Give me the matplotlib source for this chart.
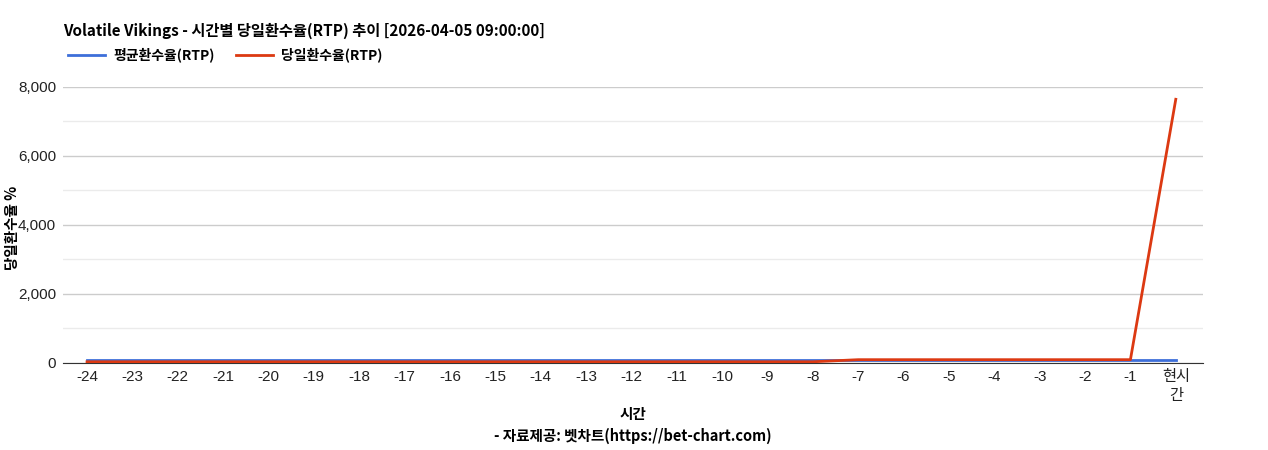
import matplotlib
matplotlib.use("Agg")
import matplotlib.pyplot as plt
from matplotlib.ticker import MultipleLocator, FuncFormatter

plt.rcParams['font.family'] = ['Noto Sans CJK KR', 'DejaVu Sans']

hours = list(range(-24, 1))
tick_labels = [str(h) for h in range(-24, 0)] + ['현시\n간']
avg_rtp = [96] * 25
day_rtp = [35] * 17 + [96, 96, 96, 96, 96, 96, 96, 7630]

W, H = 1268, 450
fig = plt.figure(figsize=(W / 100, H / 100), dpi=100)
left, right, top, bottom = 63, 1203, 86.5, 363
ax = fig.add_axes([left / W, 1 - bottom / H, (right - left) / W, (bottom - top) / H])

ax.plot(hours, avg_rtp, color='#3d6fd9', lw=2, label='평균환수율(RTP)', zorder=3)
ax.plot(hours, day_rtp, color='#dc3912', lw=2, label='당일환수율(RTP)', zorder=4)

ax.set_xlim(-24.53, 0.6)
ax.set_ylim(0, 8000)
ax.yaxis.set_major_locator(MultipleLocator(2000))
ax.yaxis.set_minor_locator(MultipleLocator(1000))
ax.yaxis.set_major_formatter(FuncFormatter(lambda v, p: f"{int(v):,}"))
ax.grid(which='major', axis='y', color='#cccccc', lw=1)
ax.grid(which='minor', axis='y', color='#ebebeb', lw=1)
ax.set_axisbelow(True)
ax.set_xticks(hours)
ax.set_xticklabels(tick_labels)
ax.tick_params(axis='both', which='both', length=0, labelsize=11, colors='#222222')
ax.tick_params(axis='x', pad=5)
ax.tick_params(axis='y', pad=5)
for lab in ax.get_xticklabels() + ax.get_yticklabels():
    lab.set_family(['Liberation Sans', 'Noto Sans CJK KR'])
ax.get_xticklabels()[-1].set_linespacing(1.45)
for s in ['top', 'right', 'left']:
    ax.spines[s].set_visible(False)
ax.spines['bottom'].set_color('#333333')

ax.set_ylabel('당일환수율 %', fontsize=10.5, fontweight='bold', va='center')
ax.yaxis.set_label_coords((12 - left) / (right - left), 0.49)
ax.set_xlabel('시간\n- 자료제공: 벳차트(https://bet-chart.com)', fontsize=10.5, fontweight='bold', labelpad=2, linespacing=1.5)

fig.text(63 / W, 1 - 31 / H, 'Volatile Vikings - 시간별 당일환수율(RTP) 추이 [2026-04-05 09:00:00]',
         fontsize=11, fontweight='bold', va='center', ha='left')
leg = fig.legend(loc='center left', bbox_to_anchor=(55 / W, 1 - 55 / H), ncol=2, frameon=False,
                 prop={'weight': 'bold', 'size': 10}, handlelength=2.7, columnspacing=1.5, handletextpad=0.6)

fig.savefig('out.png', dpi=100)
